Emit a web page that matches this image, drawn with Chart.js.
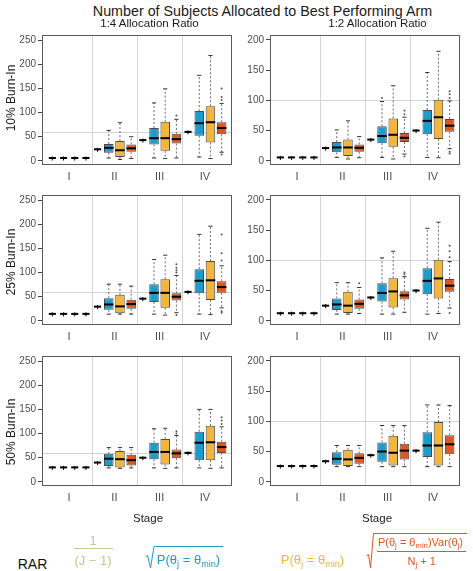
<!DOCTYPE html>
<html>
<head>
<meta charset="utf-8">
<script src="https://cdn.jsdelivr.net/npm/chart.js@4.4.1/dist/chart.umd.min.js"></script>
<style>
  body { margin: 0; background: #fff; font-family: "Liberation Sans", Arial, sans-serif; }
  #wrap { position: relative; width: 473px; height: 571px; overflow: hidden; }
  canvas { position: absolute; }
  .t { position: absolute; transform: translate(-50%, -50%); white-space: nowrap; line-height: 1; }
  .rot { position: absolute; transform: translate(-50%, -50%) rotate(-90deg); white-space: nowrap; line-height: 1; font-size: 12px; color: #1a1a1a; }
  .hl { position: absolute; height: 0; border-top: 1px solid; }
  sub { font-size: 70%; vertical-align: baseline; position: relative; top: 0.3em; }
</style>
</head>
<body>
<div id="wrap"></div>
<script>
// stage labels and the four RAR methods
const stages = ['I', 'II', 'III', 'IV'];
const methods = ['1/(J-1)', 'sqrt P', 'P', 'sqrt P Var/(N+1)'];
const boxColors = ['#c2c88e', '#1f9bc9', '#f2b53e', '#e0561f'];
const ticks14 = [0, 50, 100, 150, 200, 250];
const ticks12 = [0, 50, 100, 150, 200];

// each box: [min, q1, median, q3, max] for stages I..IV
// 10% burn-in, 1:4
const b10r4Fixed = [[6, 6, 6, 6, 6], [24, 24, 24, 24, 24], [43, 43, 43, 43, 43], [60, 60, 60, 60, 60]];
const b10r4Sqrt = [[6, 6, 6, 6, 6], [6, 17, 27, 35, 63], [6, 34, 47, 68, 120], [8, 52, 78, 103, 177]];
const b10r4Prob = [[6, 6, 6, 6, 6], [3, 8, 22, 41, 79], [5, 21, 47, 81, 149], [5, 38, 80, 113, 218]];
const b10r4Var = [[6, 6, 6, 6, 6], [5, 19, 26, 34, 50], [6, 36, 45, 56, 86], [18, 55, 68, 80, 119]];
const o10r4 = [[2, 3, 94], [3, 3, 126], [3, 3, 132], [3, 3, 150], [3, 3, 13]];

// 10% burn-in, 1:2
const b10r2Fixed = [[5.5, 5.5, 5.5, 5.5, 5.5], [21, 21, 21, 21, 21], [35, 35, 35, 35, 35], [50, 50, 50, 50, 50]];
const b10r2Sqrt = [[5.5, 5.5, 5.5, 5.5, 5.5], [5.5, 14, 22, 31, 51], [5.5, 29, 41, 57, 98], [5.5, 44, 66, 84, 146]];
const b10r2Prob = [[5.5, 5.5, 5.5, 5.5, 5.5], [3, 8, 22, 35, 66], [3, 23, 43, 70, 124], [5, 36, 72, 101, 181]];
const b10r2Var = [[5.5, 5.5, 5.5, 5.5, 5.5], [5, 15, 21.5, 27, 40], [11, 31, 38, 46, 72], [20, 48, 58, 69, 99]];
const o10r2 = [[2, 1, 104], [2, 3, 77], [2, 3, 83], [2, 3, 7], [3, 3, 104], [3, 3, 110], [3, 3, 115], [3, 3, 15], [3, 3, 12]];

// 25% burn-in, 1:4
const b25r4Fixed = [[14.5, 14.5, 14.5, 14.5, 14.5], [29.5, 29.5, 29.5, 29.5, 29.5], [46, 46, 46, 46, 46], [60, 60, 60, 60, 60]];
const b25r4Sqrt = [[14.5, 14.5, 14.5, 14.5, 14.5], [14, 23, 34, 47, 76], [14, 39, 58, 76, 127], [14, 57, 83, 107, 179]];
const b25r4Prob = [[14.5, 14.5, 14.5, 14.5, 14.5], [14, 16, 30, 54, 76], [12, 27, 58, 86, 136], [13, 43, 84, 124, 196]];
const b25r4Var = [[14.5, 14.5, 14.5, 14.5, 14.5], [14, 25, 35, 44, 72], [17, 42, 50, 57, 94], [27, 58, 70, 82, 114]];
const o25r4 = [[2, 3, 100], [2, 3, 105], [2, 3, 110], [2, 3, 117], [2, 3, 12], [3, 3, 125], [3, 3, 140], [3, 3, 179], [3, 3, 20], [3, 3, 17]];

// 25% burn-in, 1:2
const b25r2Fixed = [[12.5, 12.5, 12.5, 12.5, 12.5], [25, 25, 25, 25, 25], [38.5, 38.5, 38.5, 38.5, 38.5], [50, 50, 50, 50, 50]];
const b25r2Sqrt = [[12.5, 12.5, 12.5, 12.5, 12.5], [11, 18, 27, 37, 63], [11, 32, 46, 62, 104], [11, 44, 66, 87, 153]];
const b25r2Prob = [[12.5, 12.5, 12.5, 12.5, 12.5], [11, 13, 25, 48, 63], [11, 22, 48.5, 70.5, 115], [12, 37, 70, 101, 163]];
const b25r2Var = [[12.5, 12.5, 12.5, 12.5, 12.5], [12, 20, 28, 35, 55], [14, 35, 42, 49, 73], [21, 48, 58, 69, 98]];
const o25r2 = [[1, 3, 62], [2, 3, 77], [2, 3, 80], [3, 3, 105], [3, 3, 115], [3, 3, 124], [3, 3, 13]];

// 50% burn-in, 1:4
const b50r4Fixed = [[30, 30, 30, 30, 30], [40, 40, 40, 40, 40], [50, 50, 50, 50, 50], [60, 60, 60, 60, 60]];
const b50r4Sqrt = [[30, 30, 30, 30, 30], [29, 33, 48, 58, 71], [29, 47, 62, 81, 110], [29, 45, 81, 104, 150]];
const b50r4Prob = [[30, 30, 30, 30, 30], [28, 30, 47, 64, 71], [28, 36, 62, 89, 111], [28, 45, 82, 116, 150]];
const b50r4Var = [[30, 30, 30, 30, 30], [29, 34, 45, 56, 71], [29, 49, 59, 67, 96], [29, 60, 72, 83, 114]];
const o50r4 = [[2, 3, 100], [2, 3, 105], [3, 3, 120], [3, 3, 127], [3, 3, 134]];

// 50% burn-in, 1:2
const b50r2Fixed = [[26, 26, 26, 26, 26], [34, 34, 34, 34, 34], [44, 44, 44, 44, 44], [51.5, 51.5, 51.5, 51.5, 51.5]];
const b50r2Sqrt = [[26, 26, 26, 26, 26], [25, 28, 38, 49, 60], [25, 33, 50, 65, 93], [25, 41, 60, 82, 127]];
const b50r2Prob = [[26, 26, 26, 26, 26], [25, 26, 37, 53, 60], [25, 27, 48, 76, 93], [25, 27, 60, 99, 127]];
const b50r2Var = [[26, 26, 26, 26, 26], [25, 30, 39.5, 47, 60], [25, 37, 51.5, 63, 93], [25, 45.5, 62, 77, 126]];
const o50r2 = [];

const wrap = document.getElementById('wrap');

function txt(x, y, html, style) {
    const d = document.createElement('div');
    d.className = 't';
    d.style.left = x + 'px';
    d.style.top = y + 'px';
    d.style.cssText += style || '';
    d.innerHTML = html;
    wrap.appendChild(d);
}

function hline(x1, x2, y, color) {
    const d = document.createElement('div');
    d.className = 'hl';
    d.style.left = x1 + 'px';
    d.style.top = y + 'px';
    d.style.width = (x2 - x1) + 'px';
    d.style.borderColor = color;
    wrap.appendChild(d);
}

// draws stage separators, reference line, whiskers, medians, outliers and the frame
const boxPlugin = {
    id: 'boxes',
    beforeDatasetsDraw(chart) {
        const { ctx, chartArea, scales } = chart;
        ctx.save();
        ctx.lineWidth = 1;
        ctx.strokeStyle = '#d4d4d4';
        ctx.beginPath();
        [1.5, 2.5, 3.5].forEach(v => {
            const px = Math.round(scales.x.getPixelForValue(v)) + 0.5;
            ctx.moveTo(px, chartArea.top);
            ctx.lineTo(px, chartArea.bottom);
        });
        ctx.stroke();
        const y = scales.y.getPixelForValue(chart.options.plugins.boxes.refLine);
        ctx.strokeStyle = '#c9d6dd';
        ctx.beginPath();
        ctx.moveTo(chartArea.left, Math.round(y) + 0.5);
        ctx.lineTo(chartArea.right, Math.round(y) + 0.5);
        ctx.stroke();
        ctx.restore();
    },
    afterDatasetsDraw(chart) {
        const { ctx, scales } = chart;
        const ys = scales.y;
        ctx.save();
        chart.data.datasets.forEach((ds, i) => {
            const meta = chart.getDatasetMeta(i);
            meta.data.forEach((bar, j) => {
                const [mn, q1, med, q3, mx] = ds.stats[j];
                const flat = q1 === q3;
                const w = flat ? bar.width * 0.75 : bar.width;
                const x = bar.x;
                const cw = bar.width * 0.22;
                // dashed whiskers
                ctx.strokeStyle = '#6b6b6b';
                ctx.lineWidth = 1;
                ctx.setLineDash([2, 2]);
                ctx.beginPath();
                if (mx > q3) { ctx.moveTo(x, ys.getPixelForValue(q3)); ctx.lineTo(x, ys.getPixelForValue(mx)); }
                if (mn < q1) { ctx.moveTo(x, ys.getPixelForValue(q1)); ctx.lineTo(x, ys.getPixelForValue(mn)); }
                ctx.stroke();
                ctx.setLineDash([]);
                // caps
                ctx.strokeStyle = '#333';
                ctx.beginPath();
                if (mx > q3) { const py = ys.getPixelForValue(mx); ctx.moveTo(x - cw, py); ctx.lineTo(x + cw, py); }
                if (mn < q1) { const py = ys.getPixelForValue(mn); ctx.moveTo(x - cw, py); ctx.lineTo(x + cw, py); }
                ctx.stroke();
                // median
                ctx.strokeStyle = '#000';
                ctx.lineWidth = 2;
                ctx.beginPath();
                const my = ys.getPixelForValue(med);
                ctx.moveTo(x - w / 2, my);
                ctx.lineTo(x + w / 2, my);
                ctx.stroke();
                if (flat) {
                    ctx.lineWidth = 1;
                    ctx.beginPath();
                    ctx.moveTo(x, my - 1.5);
                    ctx.lineTo(x, my + 2.5);
                    ctx.stroke();
                }
            });
        });
        // outliers
        ctx.fillStyle = '#555';
        chart.options.plugins.boxes.outliers.forEach(([s, m, v]) => {
            const bar = chart.getDatasetMeta(m).data[s];
            ctx.beginPath();
            ctx.arc(bar.x, ys.getPixelForValue(v), 1, 0, Math.PI * 2);
            ctx.fill();
        });
        ctx.restore();
    },
    afterDraw(chart) {
        const { ctx, chartArea } = chart;
        ctx.save();
        ctx.strokeStyle = '#5a5a5a';
        ctx.lineWidth = 1;
        ctx.strokeRect(chartArea.left + 0.5, chartArea.top + 0.5, chartArea.right - chartArea.left - 1, chartArea.bottom - chartArea.top - 1);
        ctx.restore();
    }
};

const frameW = 190, frameH = 130, yAxisW = 42, padT = 8, padR = 6, xAxisH = 24;

function makePanel(frameLeft, frameTop, series, outliers, yMin, yMax, yTicks, refLine) {
    const cv = document.createElement('canvas');
    const cw = frameW + yAxisW + padR, ch = padT + frameH + xAxisH;
    cv.width = cw; cv.height = ch;
    cv.style.left = (frameLeft - yAxisW) + 'px';
    cv.style.top = (frameTop - padT) + 'px';
    cv.style.width = cw + 'px'; cv.style.height = ch + 'px';
    wrap.appendChild(cv);

    new Chart(cv.getContext('2d'), {
        type: 'bar',
        data: {
            datasets: series.map((st, i) => ({
                label: methods[i],
                stats: st,
                data: st.map((b, j) => ({ x: j + 1, y: [b[1], b[3]] })),
                backgroundColor: boxColors[i],
                borderColor: '#4a4a4a',
                borderWidth: 1,
                borderSkipped: false,
                categoryPercentage: 0.99,
                barPercentage: 0.85
            }))
        },
        options: {
            responsive: false,
            animation: false,
            events: [],
            layout: { padding: { top: padT, right: padR, left: 0, bottom: 0 } },
            scales: {
                x: {
                    type: 'linear',
                    offset: false,
                    min: 0.4,
                    max: 4.6,
                    afterBuildTicks: (s) => { s.ticks = [1, 2, 3, 4].map(v => ({ value: v })); },
                    afterFit: (s) => { s.height = xAxisH; },
                    grid: { display: true, drawOnChartArea: false, drawTicks: false },
                    border: { display: false },
                    ticks: {
                        autoSkip: false,
                        maxRotation: 0,
                        padding: 5,
                        color: '#4d4d4d',
                        font: { size: 11, family: '"Liberation Sans", Arial, sans-serif' },
                        callback: (v) => stages[v - 1]
                    }
                },
                y: {
                    min: yMin,
                    max: yMax,
                    afterBuildTicks: (s) => { s.ticks = yTicks.map(v => ({ value: v })); },
                    afterFit: (s) => { s.width = yAxisW; },
                    grid: { drawOnChartArea: false, drawTicks: true, tickLength: 4, color: '#444' },
                    border: { display: false },
                    ticks: {
                        padding: 2,
                        color: '#4d4d4d',
                        font: { size: 10, family: '"Liberation Sans", Arial, sans-serif' }
                    }
                }
            },
            plugins: {
                legend: { display: false },
                tooltip: { enabled: false },
                boxes: { refLine: refLine, outliers: outliers }
            }
        },
        plugins: [boxPlugin]
    });
}

const rowsTop = [35, 195, 356];
const leftX = 42, rightX = 270;

makePanel(leftX, rowsTop[0], [b10r4Fixed, b10r4Sqrt, b10r4Prob, b10r4Var], o10r4, -8.5, 260.5, ticks14, 60);
makePanel(rightX, rowsTop[0], [b10r2Fixed, b10r2Sqrt, b10r2Prob, b10r2Var], o10r2, -7, 208, ticks12, 100);
makePanel(leftX, rowsTop[1], [b25r4Fixed, b25r4Sqrt, b25r4Prob, b25r4Var], o25r4, -8.5, 260.5, ticks14, 60);
makePanel(rightX, rowsTop[1], [b25r2Fixed, b25r2Sqrt, b25r2Prob, b25r2Var], o25r2, -7, 208, ticks12, 100);
makePanel(leftX, rowsTop[2], [b50r4Fixed, b50r4Sqrt, b50r4Prob, b50r4Var], o50r4, -8.5, 260.5, ticks14, 60);
makePanel(rightX, rowsTop[2], [b50r2Fixed, b50r2Sqrt, b50r2Prob, b50r2Var], o50r2, -7, 208, ticks12, 100);

// titles
txt(262.5, 11, 'Number of Subjects Allocated to Best Performing Arm', 'font-size:14.3px;color:#1a1a1a;');
txt(149.5, 23.5, '1:4 Allocation Ratio', 'font-size:11.5px;color:#1a1a1a;');
txt(377.5, 23.5, '1:2 Allocation Ratio', 'font-size:11.5px;color:#1a1a1a;');

// row labels
[['10% Burn-In', 98], ['25% Burn-In', 262], ['50% Burn-In', 432]].forEach(([t, y]) => {
    const d = document.createElement('div');
    d.className = 'rot';
    d.style.left = '11px';
    d.style.top = y + 'px';
    d.textContent = t;
    wrap.appendChild(d);
});

txt(148, 519, 'Stage', 'font-size:11.5px;color:#1a1a1a;');
txt(377, 519, 'Stage', 'font-size:11.5px;color:#1a1a1a;');

// RAR legend
txt(32.5, 564, 'RAR', 'font-size:14px;color:#111;');
const fs = 'font-size:13px;';
txt(93, 540, '1', fs + 'color:' + boxColors[0]);
hline(74, 113, 548, boxColors[0]);
txt(93, 560, '(J − 1)', fs + 'color:' + boxColors[0]);

txt(188.5, 560, 'P(θ<sub>j</sub> = θ<sub>min</sub>)', fs + 'color:' + boxColors[1]);
txt(312.5, 560, 'P(θ<sub>j</sub> = θ<sub>min</sub>)', fs + 'color:' + boxColors[2]);

txt(420.5, 541.5, 'P(θ<sub>j</sub> = θ<sub>min</sub>)Var(θ<sub>j</sub>)', 'font-size:11px;color:' + boxColors[3]);
hline(377, 466, 551, boxColors[3]);
txt(421.7, 561, 'N<sub>j</sub> + 1', 'font-size:11px;color:' + boxColors[3]);

// radical signs
const svgNS = 'http://www.w3.org/2000/svg';
const svg = document.createElementNS(svgNS, 'svg');
svg.setAttribute('width', '473');
svg.setAttribute('height', '571');
svg.style.position = 'absolute';
svg.style.left = '0';
svg.style.top = '0';
[[boxColors[1], '145.5,557 147.5,555.5 150.5,568 154,546.5 223,546.5'],
 [boxColors[3], '366.5,556 368.5,554.5 370.5,568 373.5,533.5 467,533.5']].forEach(([c, pts]) => {
    const p = document.createElementNS(svgNS, 'polyline');
    p.setAttribute('points', pts);
    p.setAttribute('fill', 'none');
    p.setAttribute('stroke', c);
    p.setAttribute('stroke-width', '1');
    svg.appendChild(p);
});
wrap.appendChild(svg);
</script>
</body>
</html>
